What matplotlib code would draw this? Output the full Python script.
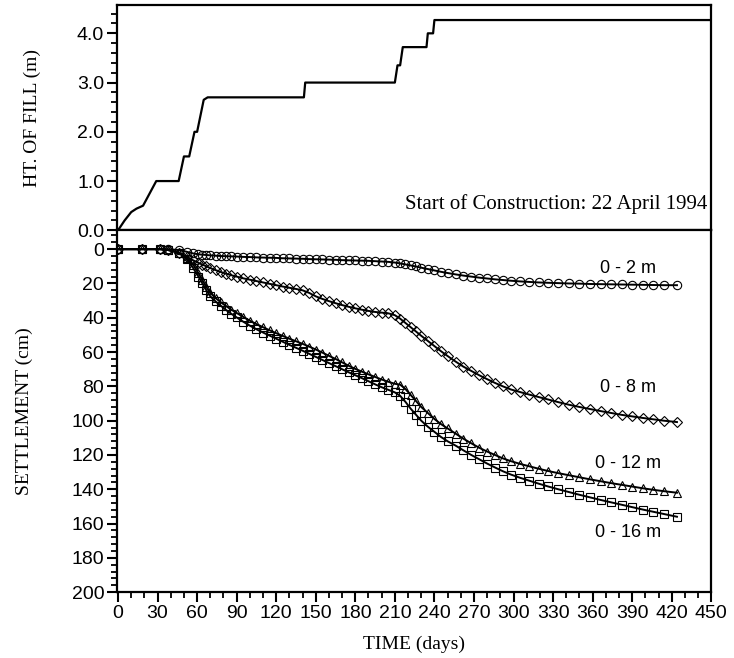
import matplotlib.pyplot as plt
from matplotlib.ticker import MultipleLocator, FormatStrFormatter

# fill history
fill_days = [0, 5, 10, 14, 19, 29, 46, 50, 54, 58, 60, 65, 68, 141, 142, 210, 212, 214, 216, 234, 235, 239, 240, 449]
fill_ht = [0, 0.2, 0.37, 0.44, 0.5, 1.0, 1.0, 1.5, 1.5, 2.0, 2.0, 2.65, 2.7, 2.7, 3.0, 3.0, 3.35, 3.35, 3.72, 3.72, 4.0, 4.0, 4.27, 4.27]

# settlement readings (cm)
days = [0, 18, 32, 38, 46, 52, 57, 61, 64, 67,
        70, 74, 78, 82, 86, 90, 95, 100, 105, 110,
        115, 120, 125, 130, 135, 140, 145, 150, 155, 160,
        165, 170, 175, 180, 185, 190, 195, 200, 205, 210,
        214, 218, 222, 226, 230, 235, 240, 245, 250, 256,
        262, 268, 274, 280, 286, 292, 298, 305, 312, 319,
        326, 334, 342, 350, 358, 366, 374, 382, 390, 398,
        406, 414, 424]

s_2m = [0, 0, 0, 0, 0.5, 1.5, 2.5, 3, 3.2, 3.4,
        3.6, 3.8, 4, 4.1, 4.2, 4.3, 4.5, 4.6, 4.8, 4.9,
        5, 5.1, 5.3, 5.4, 5.5, 5.6, 5.8, 5.9, 6, 6.1,
        6.2, 6.4, 6.5, 6.6, 6.7, 6.8, 7, 7.2, 7.4, 7.8,
        8.3, 8.9, 9.5, 10.1, 10.8, 11.6, 12.4, 13.2, 13.9, 14.7,
        15.4, 16, 16.6, 17.1, 17.6, 18, 18.4, 18.8, 19.1, 19.4,
        19.6, 19.8, 20, 20.1, 20.3, 20.4, 20.5, 20.6, 20.7, 20.8,
        20.9, 21, 21]

s_8m = [0, 0, 0, 0.5, 2, 4.5, 6.5, 8, 9, 10,
        11, 12.2, 13.3, 14.3, 15.2, 16, 17, 17.8, 18.6, 19.4,
        20.2, 21, 21.8, 22.5, 23.2, 24, 25.5, 27.5, 29, 30.3,
        31.5, 32.6, 33.6, 34.5, 35.3, 36, 36.6, 37, 37.4, 38.5,
        40.5, 43, 45.5, 48, 50.5, 53.5, 56.5, 59.5, 62.3, 65.5,
        68.5, 71, 73.5, 75.8, 78, 80, 81.8, 83.3, 84.8, 86.2,
        87.6, 89.2, 90.7, 92, 93.2, 94.4, 95.5, 96.6, 97.5, 98.4,
        99.2, 100, 100.8]

s_12m = [0, 0, 0, 0.5, 2, 5, 9, 14, 18, 22,
         25.5, 28.5, 31, 33.2, 35.3, 37.2, 39.5, 41.7, 43.7, 45.5,
         47.3, 49, 50.6, 52.2, 53.7, 55.2, 56.8, 58.5, 60.3, 62.2,
         64, 66, 68, 69.8, 71.4, 73, 74.5, 76, 77.3, 78.5,
         79, 81.5, 85, 88.5, 92, 95.5, 99, 102, 104.5, 107.5,
         110.5, 113.2, 115.8, 118, 120, 122, 123.6, 125.2, 126.6, 128,
         129.3, 130.6, 131.8, 133, 134.2, 135.3, 136.4, 137.4, 138.4, 139.4,
         140.3, 141.1, 142]

s_16m = [0, 0, 0, 0.5, 2, 6, 11, 16, 20, 24,
         27.5, 30.5, 33, 35.5, 37.7, 39.8, 42.3, 44.6, 46.7, 48.6,
         50.4, 52.2, 54, 55.8, 57.5, 59.2, 61, 62.8, 64.6, 66.4,
         68.2, 70, 71.8, 73.5, 75.2, 77, 78.8, 80.5, 82, 83.5,
         85.5, 89, 93, 96.5, 100, 103.5, 106.5, 109.5, 112, 114.5,
         117.3, 120, 122.5, 125, 127.3, 129.5, 131.4, 133.3, 135, 136.7,
         138.3, 140, 141.6, 143.2, 144.7, 146.2, 147.6, 149, 150.4, 151.8,
         153.1, 154.4, 156]

labels = ['0 - 2 m', '0 - 8 m', '0 - 12 m', '0 - 16 m']
label_y = [11, 80.5, 125, 165]
label_x = 387

serif = 'Liberation Serif'
sans = 'Liberation Sans'

fig = plt.figure(figsize=(7.34, 6.58), dpi=100)
ax1 = fig.add_axes([0.159, 0.650, 0.810, 0.342])
ax2 = fig.add_axes([0.159, 0.100, 0.810, 0.550])

for ax in (ax1, ax2):
    for sp in ax.spines.values():
        sp.set_linewidth(1.6)
    ax.tick_params(which='major', direction='out', length=7, width=1.5, labelsize=14, pad=2)
    ax.tick_params(which='minor', direction='out', length=4, width=1.3)

# upper panel
ax1.plot(fill_days, fill_ht, color='black', lw=1.6)
ax1.set_xlim(-1, 450)
ax1.set_ylim(0, 4.57)
ax1.yaxis.set_major_locator(MultipleLocator(1.0))
ax1.yaxis.set_minor_locator(MultipleLocator(0.2))
ax1.yaxis.set_major_formatter(FormatStrFormatter('%.1f'))
ax1.set_xticks([])
ax1.set_ylabel('HT. OF FILL (m)', family=serif, fontsize=14)
ax1.yaxis.set_label_coords(-0.128, 0.5)
ax1.text(0.993, 0.115, 'Start of Construction: 22 April 1994', transform=ax1.transAxes,
         ha='right', va='center', family=serif, fontsize=15)

# lower panel
series = [(s_2m, 'o'), (s_8m, 'D'), (s_12m, '^'), (s_16m, 's')]
for vals, mk in series:
    ax2.plot(days, vals, color='black', lw=1.4, marker=mk,
             markersize=6 if mk != 'D' else 5, markerfacecolor='none',
             markeredgecolor='black', markeredgewidth=0.8)

for lab, ly in zip(labels, label_y):
    ax2.text(label_x, ly, lab, ha='center', va='center', family=sans, fontsize=13)

ax2.set_xlim(-1, 450)
ax2.set_ylim(200, -11)
ax2.xaxis.set_major_locator(MultipleLocator(30))
ax2.xaxis.set_minor_locator(MultipleLocator(10))
ax2.yaxis.set_major_locator(MultipleLocator(20))
ax2.yaxis.set_minor_locator(MultipleLocator(4))
ax2.set_yticks(range(0, 201, 20))
ax2.set_xlabel('TIME (days)', family=serif, fontsize=14)
ax2.xaxis.set_label_coords(0.5, -0.12)
ax2.set_ylabel('SETTLEMENT (cm)', family=serif, fontsize=14)
ax2.yaxis.set_label_coords(-0.140, 0.5)

for ax in (ax1, ax2):
    for lab in ax.get_xticklabels() + ax.get_yticklabels():
        lab.set_family(sans)

fig.savefig('out.png', dpi=100)
